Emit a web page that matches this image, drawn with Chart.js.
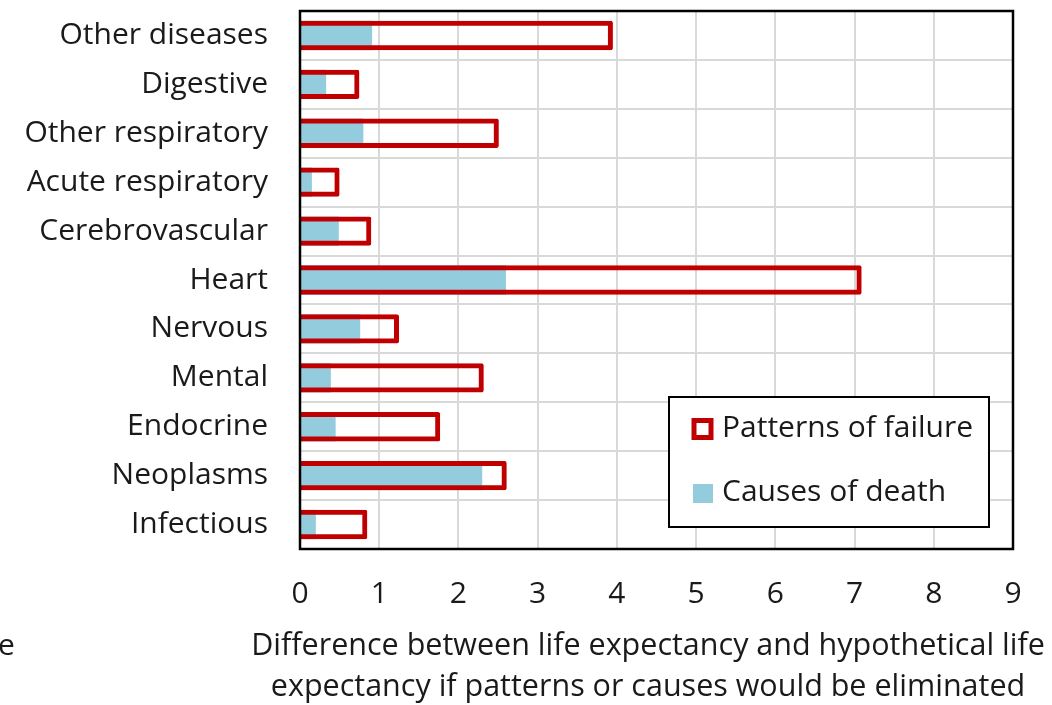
<!DOCTYPE html>
<html lang="en">
<head>
    <meta charset="UTF-8">
    <title>Patterns of failure vs causes of death</title>
    <script src="https://cdn.jsdelivr.net/npm/chart.js"></script>
    <style>
        html, body { margin: 0; padding: 0; background: #fff; }
        #chart-box { width: 1052px; height: 705px; position: relative; }
    </style>
</head>
<body>
    <div id="chart-box">
        <canvas id="myChart"></canvas>
    </div>

    <script>
        var categories = ['Other diseases', 'Digestive', 'Other respiratory', 'Acute respiratory', 'Cerebrovascular',
            'Heart', 'Nervous', 'Mental', 'Endocrine', 'Neoplasms', 'Infectious'];
        var patternsOfFailure = [3.95, 0.75, 2.51, 0.50, 0.90, 7.09, 1.25, 2.32, 1.77, 2.61, 0.85];
        var causesOfDeath = [0.91, 0.33, 0.80, 0.15, 0.49, 2.60, 0.76, 0.39, 0.45, 2.30, 0.20];
        var xTicks = [0, 1, 2, 3, 4, 5, 6, 7, 8, 9];
        var xTitle = ['Difference between life expectancy and hypothetical life',
            'expectancy if patterns or causes would be eliminated'];

        var fontFamily = "'Open Sans', 'Liberation Sans', sans-serif";
        var textColor = '#1a1a1a';
        var red = '#C00000';
        var blue = '#93CDDD';

        // frame around plot, legend box inside it, axis title and the cut-off "e" at the left edge
        var extrasPlugin = {
            id: 'extras',
            afterDraw: function (chart) {
                var c = chart.ctx;
                var a = chart.chartArea;
                c.save();
                c.strokeStyle = '#000';
                c.lineWidth = 2.5;
                c.strokeRect(a.left, a.top, a.right - a.left, a.bottom - a.top);

                var w = 320, h = 130;
                var lx = a.right - 24 - w, ly = a.bottom - 22 - h;
                c.fillStyle = '#fff';
                c.fillRect(lx, ly, w, h);
                c.lineWidth = 2;
                c.strokeRect(lx, ly, w, h);

                c.strokeStyle = red;
                c.lineWidth = 5;
                c.strokeRect(lx + 25, ly + 23.5, 17, 17);
                c.fillStyle = blue;
                c.fillRect(lx + 24, ly + 87, 20, 19);

                c.fillStyle = textColor;
                c.font = '30px ' + fontFamily;
                c.textBaseline = 'middle';
                c.textAlign = 'left';
                c.fillText(chart.data.datasets[0].label, lx + 53, ly + 31);
                c.fillText(chart.data.datasets[1].label, lx + 53, ly + 95);

                c.fillText('e', -2, 646);

                c.font = '30.5px ' + fontFamily;
                c.textAlign = 'center';
                c.fillText(xTitle[0], 648, 646);
                c.fillText(xTitle[1], 648, 687);
                c.restore();
            }
        };

        var ctx = document.getElementById('myChart').getContext('2d');
        var myChart = new Chart(ctx, {
            type: 'bar',
            data: {
                labels: categories,
                datasets: [{
                    label: 'Patterns of failure',
                    data: patternsOfFailure,
                    backgroundColor: 'rgba(0,0,0,0)',
                    borderColor: red,
                    borderWidth: 5,
                    borderRadius: 2,
                    borderSkipped: 'start'
                }, {
                    label: 'Causes of death',
                    data: causesOfDeath,
                    backgroundColor: blue,
                    borderWidth: 0
                }]
            },
            options: {
                indexAxis: 'y',
                responsive: true,
                maintainAspectRatio: false,
                animation: false,
                grouped: false,
                categoryPercentage: 1,
                barPercentage: 0.6,
                layout: {
                    padding: { top: 11, right: 39, bottom: 0, left: 0 }
                },
                plugins: {
                    legend: { display: false },
                    tooltip: { enabled: false }
                },
                scales: {
                    x: {
                        min: 0,
                        max: 9,
                        afterBuildTicks: function (scale) {
                            scale.ticks = xTicks.map(function (v) { return { value: v }; });
                        },
                        afterFit: function (scale) {
                            scale.height = 156;
                            scale.paddingLeft = 0;
                            scale.paddingRight = 0;
                        },
                        grid: {
                            color: '#d9d9d9',
                            lineWidth: 2,
                            drawTicks: false
                        },
                        border: { display: false },
                        ticks: {
                            color: textColor,
                            padding: 27,
                            font: { size: 30, family: fontFamily }
                        }
                    },
                    y: {
                        afterFit: function (scale) {
                            scale.width = 300;
                            scale.paddingTop = 0;
                            scale.paddingBottom = 0;
                        },
                        grid: {
                            color: '#d9d9d9',
                            lineWidth: 2,
                            drawTicks: false
                        },
                        border: { display: false },
                        ticks: {
                            color: textColor,
                            padding: 32,
                            font: { size: 30, family: fontFamily }
                        }
                    }
                }
            },
            plugins: [extrasPlugin]
        });
    </script>
</body>
</html>
